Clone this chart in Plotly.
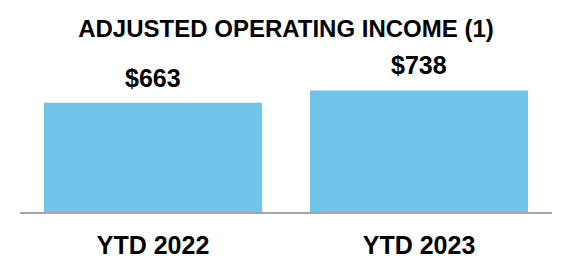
import plotly.graph_objects as go

categories = ["YTD 2022", "YTD 2023"]
values = [663, 738]
value_labels = ["$663", "$738"]
title_text = "ADJUSTED OPERATING INCOME (1)"

W, H = 572, 280
ml, mr, mt, mb = 20, 20, 60, 67.5
plot_h = H - mt - mb
px_per_unit = 122 / 738
ymax = plot_h / px_per_unit
FONT = "Liberation Sans, Arial"

fig = go.Figure()
fig.add_trace(go.Bar(
    x=categories, y=values,
    marker=dict(color="#70C4E8", line=dict(width=0)),
    width=0.82,
    hoverinfo="skip",
))
for c, v, t in zip(categories, values, value_labels):
    fig.add_annotation(x=c, y=v, text="<b>" + t + "</b>", showarrow=False, yanchor="middle", yshift=25,
                       font=dict(family=FONT, size=25, color="#000000"))

fig.update_layout(
    width=W, height=H,
    margin=dict(l=ml, r=mr, t=mt, b=mb),
    paper_bgcolor="white", plot_bgcolor="white",
    showlegend=False,
    title=dict(text="<b>" + title_text + "</b>", x=0.5, xanchor="center", y=1 - 29 / H, yanchor="middle",
               font=dict(family=FONT, size=24, color="#000000")),
    font=dict(family=FONT, color="#000000"),
    xaxis=dict(range=[-0.5, 1.5], showline=True, linecolor="#A6A6A6", linewidth=2,
               ticks="", showgrid=False, zeroline=False,
               tickfont=dict(size=25, family=FONT, color="#000000"),
               ticklabelstandoff=10,
               tickvals=categories, ticktext=["<b>" + c + "</b>" for c in categories]),
    yaxis=dict(range=[0, ymax], visible=False, showgrid=False, zeroline=False),
)

fig.write_html("out.html")
